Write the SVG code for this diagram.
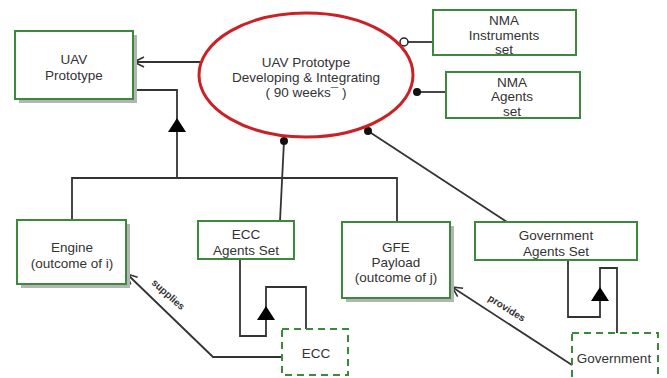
<svg xmlns="http://www.w3.org/2000/svg" width="667" height="378" viewBox="0 0 667 378">
<defs>
<style>
.box{fill:#fff;stroke:#3b8a3b;stroke-width:2}
.dash{fill:#fff;stroke:#3b8a3b;stroke-width:2;stroke-dasharray:7,5}
.sh{fill:#b4b4b4}
.t{font-family:"Liberation Sans",Arial,sans-serif;font-size:13.5px;fill:#333;text-anchor:middle}
.lb{font-family:"Liberation Sans",Arial,sans-serif;font-size:10px;fill:#333;text-anchor:middle;font-weight:bold}
.ln{fill:none;stroke:#333;stroke-width:1.8}
.dot{fill:#111}
</style>
<marker id="open" viewBox="0 0 12 12" refX="11" refY="6" markerWidth="12" markerHeight="12" markerUnits="userSpaceOnUse" orient="auto">
<path d="M1,1 L11,6 L1,11" fill="none" stroke="#333" stroke-width="1.6"/>
</marker>
</defs>
<rect width="667" height="378" fill="#fff"/>

<g id="connectors">
<line class="ln" x1="200" y1="62" x2="134" y2="62" marker-end="url(#open)"/>
<polyline class="ln" points="134,90 177,90 177,178"/>
<polygon points="177,118 168,132 186,132" fill="#000"/>
<polyline class="ln" points="72,220 72,178 397,178 397,222"/>
<line class="ln" x1="284" y1="141" x2="280" y2="221"/>
<circle class="dot" cx="284" cy="141" r="4"/>
<line class="ln" x1="404" y1="42" x2="433" y2="42"/>
<circle cx="404" cy="42" r="4" fill="#fff" stroke="#222" stroke-width="1.5"/>
<line class="ln" x1="417" y1="92" x2="446" y2="92"/>
<circle class="dot" cx="417" cy="92" r="4"/>
<line class="ln" x1="368" y1="131" x2="507" y2="222"/>
<circle class="dot" cx="368" cy="131" r="4"/>
<polyline class="ln" points="240,259 240,336 266,336 266,287 306,287 306,329"/>
<polygon points="266,306 257,320 275,320" fill="#000"/>
<polyline class="ln" points="568,260 568,317 600,317 600,268 617,268 617,333"/>
<polygon points="600,287 591,301 609,301" fill="#000"/>
<polyline class="ln" points="282,357 213,357 127,274" marker-end="url(#open)"/>
<text class="lb" transform="translate(166,297) rotate(42)">supplies</text>
<line class="ln" x1="572" y1="365" x2="452" y2="287" marker-end="url(#open)"/>
<text class="lb" transform="translate(505,311) rotate(32)">provides</text>
</g>

<g id="ellipse">
<ellipse cx="306" cy="75" rx="107" ry="62" fill="#fff" stroke="#cc2027" stroke-width="3"/>
<text class="t" x="306" y="67">UAV Prototype</text>
<text class="t" x="306" y="82">Developing &amp; Integrating</text>
<text class="t" x="306" y="97">( 90 weeks¯  )</text>
</g>

<g id="uav">
<rect class="sh" x="19" y="35" width="118" height="68"/>
<rect class="box" x="15" y="31" width="118" height="68"/>
<text class="t" x="74" y="64">UAV</text>
<text class="t" x="74" y="80">Prototype</text>
</g>

<g id="nma-instruments">
<rect class="box" x="433" y="10" width="143" height="45"/>
<text class="t" x="504" y="25">NMA</text>
<text class="t" x="504" y="39.5">Instruments</text>
<text class="t" x="504" y="54">set</text>
</g>

<g id="nma-agents">
<rect class="box" x="446" y="72" width="134" height="46"/>
<text class="t" x="512" y="86.5">NMA</text>
<text class="t" x="512" y="101">Agents</text>
<text class="t" x="512" y="115.5">set</text>
</g>

<g id="engine">
<rect class="sh" x="21" y="224" width="109" height="64"/>
<rect class="box" x="17" y="220" width="109" height="64"/>
<text class="t" x="72" y="252">Engine</text>
<text class="t" x="72" y="268">(outcome of i)</text>
</g>

<g id="ecc-agents">
<rect class="box" x="198" y="221" width="96" height="38"/>
<text class="t" x="246" y="239">ECC</text>
<text class="t" x="246" y="255">Agents Set</text>
</g>

<g id="gfe">
<rect class="sh" x="346" y="226" width="108" height="76"/>
<rect class="box" x="342" y="222" width="108" height="76"/>
<text class="t" x="396" y="252">GFE</text>
<text class="t" x="396" y="267">Payload</text>
<text class="t" x="396" y="282">(outcome of j)</text>
</g>

<g id="gov-agents">
<rect class="box" x="475" y="222" width="162" height="38"/>
<text class="t" x="556" y="240">Government</text>
<text class="t" x="556" y="256">Agents Set</text>
</g>

<g id="ecc">
<rect class="dash" x="282" y="329" width="66" height="46"/>
<text class="t" x="316" y="358">ECC</text>
</g>

<g id="government">
<rect class="dash" x="572" y="333" width="86" height="50"/>
<text class="t" x="614" y="363">Government</text>
</g>
</svg>
